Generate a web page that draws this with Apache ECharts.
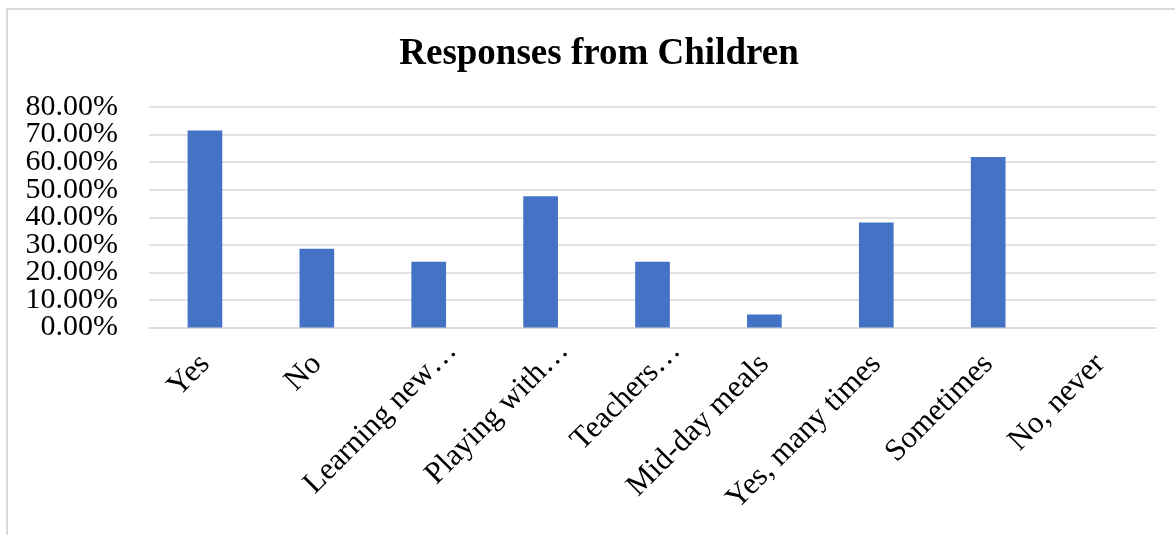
<!DOCTYPE html>
<html>
<head>
<meta charset="utf-8">
<title>Responses from Children</title>
<script src="https://cdn.jsdelivr.net/npm/echarts@6/dist/echarts.min.js"></script>
<style>
  html, body { margin: 0; padding: 0; background: #ffffff; }
  #chart { width: 1175px; height: 535px; }
</style>
</head>
<body>
<div id="chart"></div>
<script>
// Survey answers and their share of respondents
const categories = [
  'Yes', 'No', 'Learning new…', 'Playing with…', 'Teachers…',
  'Mid-day meals', 'Yes, many times', 'Sometimes', 'No, never'
];
const shares = [0.7143, 0.2857, 0.2381, 0.4762, 0.2381, 0.0476, 0.3810, 0.6190, 0];
const yTicks = [0, 0.1, 0.2, 0.3, 0.4, 0.5, 0.6, 0.7, 0.8];

const serif = '"Liberation Serif", "Times New Roman", serif';
const chart = echarts.init(document.getElementById('chart'), null, { renderer: 'canvas' });

const catFont = { fontFamily: serif, fontSize: 31, color: '#000000' };
const pct = v => (v * 100).toFixed(2) + '%';

// The percentage labels sit closer together than their font height, so they are
// split over two stacked value axes (alternate ticks) to keep every one visible.
const evenTicks = yTicks.filter((_, i) => i % 2 === 0);
const oddTicks = yTicks.filter((_, i) => i % 2 === 1);

function valueAxis(labelValues, withGrid) {
  return {
    type: 'value',
    position: 'left',
    min: yTicks[0],
    max: yTicks[yTicks.length - 1],
    interval: 0.1,
    axisLine: { show: false },
    axisTick: { show: false },
    splitLine: { show: withGrid, lineStyle: { color: '#d9d9d9', width: 1.5 } },
    axisLabel: {
      customValues: labelValues,
      margin: 31,
      showMinLabel: true,
      showMaxLabel: true,
      fontFamily: serif,
      fontSize: 30,
      color: '#000000',
      formatter: pct
    }
  };
}

chart.setOption({
  animation: false,
  backgroundColor: '#ffffff',
  title: {
    text: 'Responses from Children',
    left: 594,
    top: 31,
    textAlign: 'center',
    textStyle: {
      fontFamily: serif,
      fontWeight: 'bold',
      fontSize: 37,
      color: '#000000'
    }
  },
  graphic: [
    // chart-area frame (left and top edges)
    { type: 'line', shape: { x1: 7, y1: 9, x2: 7, y2: 535 }, style: { stroke: '#d9d9d9', lineWidth: 2 } },
    { type: 'line', shape: { x1: 6, y1: 9, x2: 1175, y2: 9 }, style: { stroke: '#d9d9d9', lineWidth: 2 } }
  ],
  grid: { left: 149, right: 19, top: 107, bottom: 207.5, containLabel: false },
  xAxis: {
    type: 'category',
    data: categories,
    axisLine: { show: true, lineStyle: { color: '#d9d9d9', width: 1.5 } },
    axisTick: { show: false },
    axisLabel: {
      rotate: 45,
      interval: 0,
      margin: 32,
      ...catFont,
      // clipped names run a little past their tick
      formatter: name => name.endsWith('…') ? '{cut|' + name + '}' : '{full|' + name + '}',
      rich: {
        full: { ...catFont },
        cut: { ...catFont, padding: [14, -26, 0, 0] }
      }
    }
  },
  yAxis: [valueAxis(evenTicks, true), valueAxis(oddTicks, false)],
  series: [{
    type: 'bar',
    data: shares,
    yAxisIndex: 0,
    barWidth: '31%',
    itemStyle: { color: '#4472c4' }
  }]
});
</script>
</body>
</html>
